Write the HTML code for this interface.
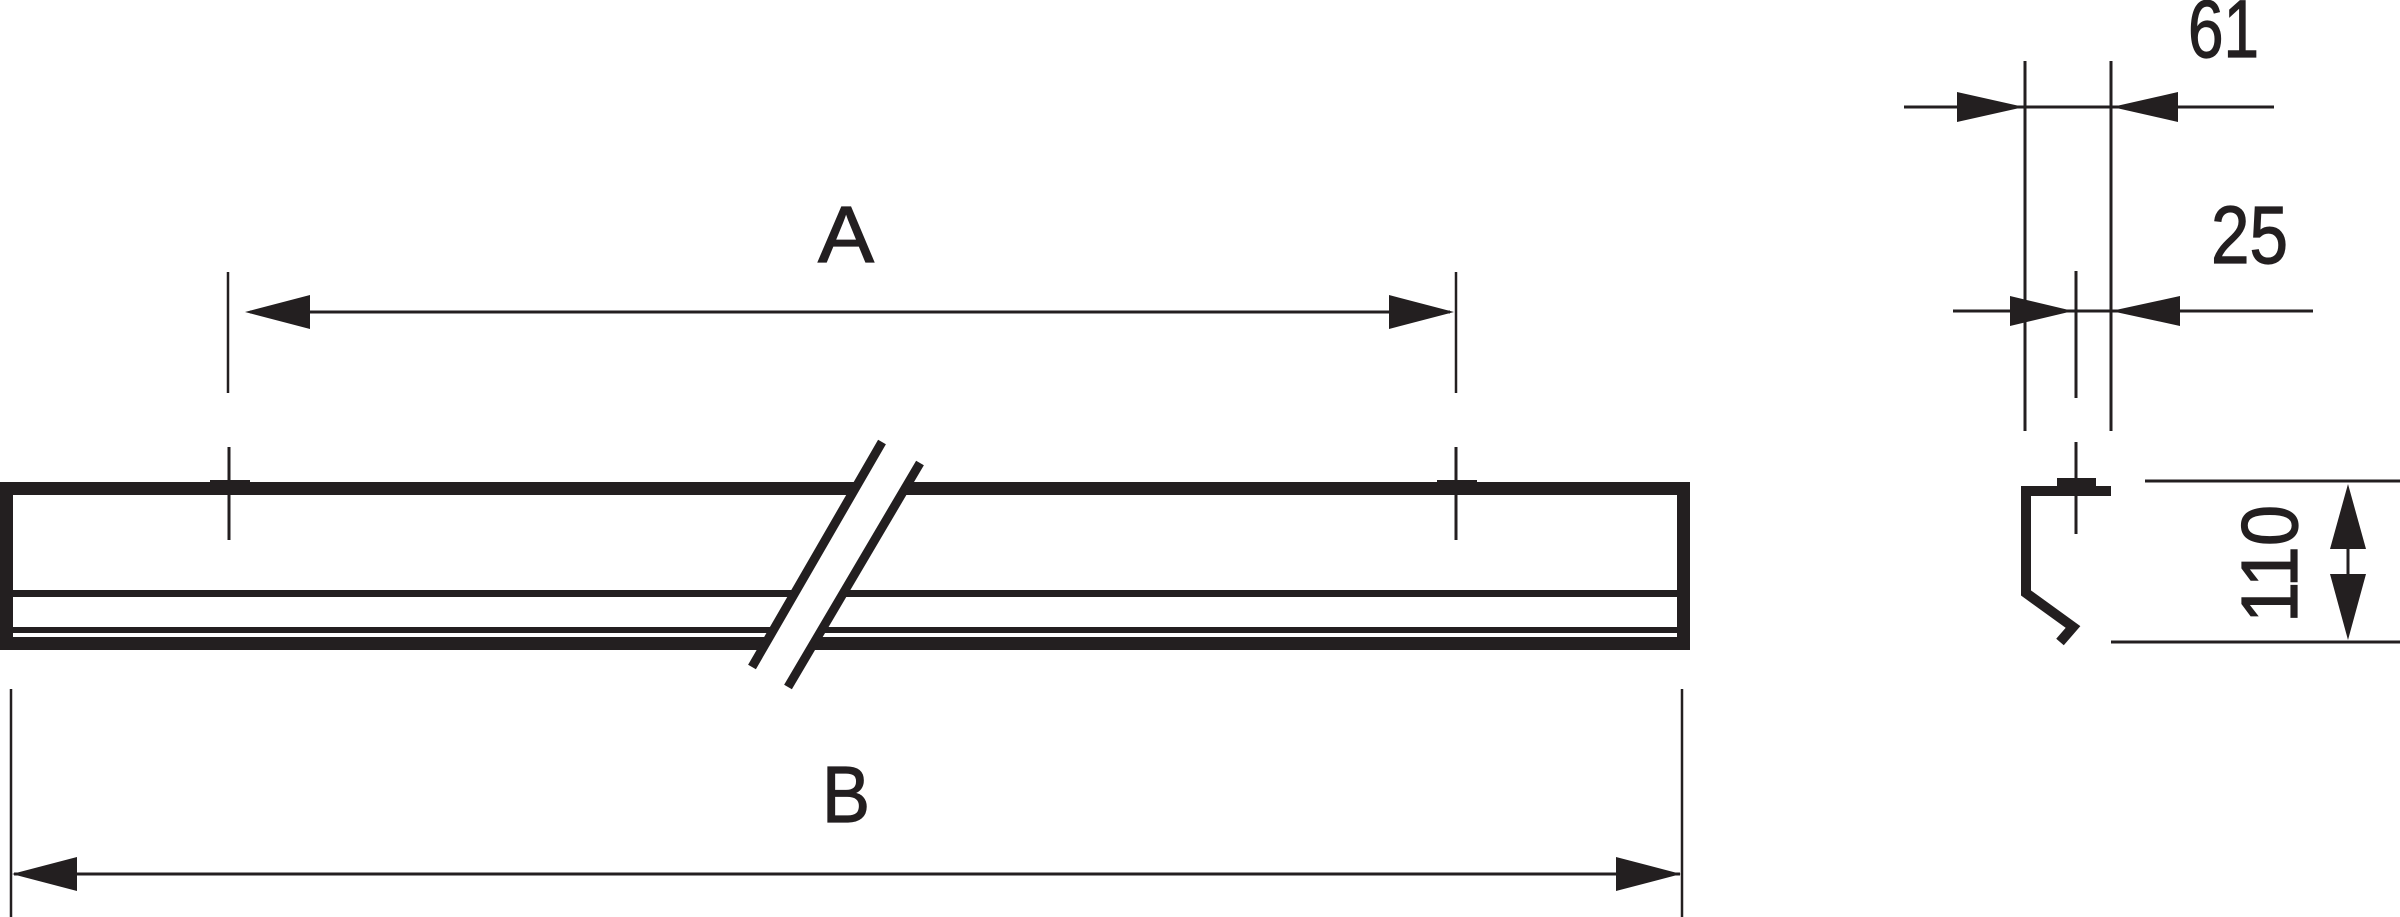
<!DOCTYPE html>
<html><head><meta charset="utf-8"><style>
html,body{margin:0;padding:0;background:#fff;}
svg{display:block;}
text{font-family:"Liberation Sans",sans-serif;fill:#231f20;stroke:#231f20;stroke-width:1.2;}
</style></head><body>
<svg width="2400" height="917" viewBox="0 0 2400 917" xmlns="http://www.w3.org/2000/svg">
<g stroke="#231f20" fill="none">
  <!-- main body -->
  <rect x="6.5" y="488.5" width="1677" height="155" stroke-width="13"/>
  <line x1="13" y1="593.5" x2="1678" y2="593.5" stroke-width="7"/>
  <line x1="13" y1="630" x2="1678" y2="630" stroke-width="6"/>
  <!-- ticks -->
  <line x1="229" y1="447" x2="229" y2="540" stroke-width="3"/>
  <rect x="210" y="480" width="40" height="6" fill="#231f20" stroke="none"/>
  <line x1="1456" y1="447" x2="1456" y2="540" stroke-width="3"/>
  <rect x="1437" y="480" width="40" height="6" fill="#231f20" stroke="none"/>
  <!-- break -->
  <polygon points="882,442 920,463 788,687 752,667" fill="#fff" stroke="none"/>
  <line x1="882" y1="442" x2="752" y2="667" stroke-width="9"/>
  <line x1="920" y1="463" x2="788" y2="687" stroke-width="9"/>
  <!-- dim A -->
  <line x1="228" y1="272" x2="228" y2="393" stroke-width="2.5"/>
  <line x1="1456" y1="272" x2="1456" y2="393" stroke-width="2.5"/>
  <line x1="250" y1="312" x2="1450" y2="312" stroke-width="3"/>
  <!-- dim B -->
  <line x1="11" y1="689" x2="11" y2="917" stroke-width="2.5"/>
  <line x1="1682" y1="689" x2="1682" y2="917" stroke-width="2.5"/>
  <line x1="14" y1="874" x2="1680" y2="874" stroke-width="3"/>
  <!-- right side dims -->
  <line x1="2025" y1="61" x2="2025" y2="431" stroke-width="3"/>
  <line x1="2111" y1="61" x2="2111" y2="431" stroke-width="3"/>
  <line x1="1904" y1="107" x2="2274" y2="107" stroke-width="3"/>
  <line x1="1953" y1="311" x2="2313" y2="311" stroke-width="3"/>
  <line x1="2076" y1="271" x2="2076" y2="398" stroke-width="3"/>
  <line x1="2076" y1="442" x2="2076" y2="534" stroke-width="3"/>
  <!-- profile -->
  <polyline points="2111,491 2026,491 2026,593 2073,627 2060,642" stroke-width="10" stroke-linejoin="miter"/>
  <rect x="2057" y="478" width="39" height="9" fill="#231f20" stroke="none"/>
  <!-- 110 dim -->
  <line x1="2145" y1="481" x2="2400" y2="481" stroke-width="3"/>
  <line x1="2111" y1="642" x2="2400" y2="642" stroke-width="3"/>
  <line x1="2348" y1="500" x2="2348" y2="625" stroke-width="3"/>
</g>
<g fill="#231f20">
  <polygon points="245,312 310,295 310,329"/>
  <polygon points="1454,312 1389,295 1389,329"/>
  <polygon points="12,874 77,857 77,891"/>
  <polygon points="1681,874 1616,857 1616,891"/>
  <!-- 61 arrows -->
  <polygon points="2024,107 1957,92 1957,122"/>
  <polygon points="2112,107 2178,92 2178,122"/>
  <!-- 25 arrows -->
  <polygon points="2073,311 2010,296 2010,326"/>
  <polygon points="2111,311 2180,296 2180,326"/>
  <!-- 110 arrows -->
  <polygon points="2348,484 2330,549 2366,549"/>
  <polygon points="2348,640 2330,574 2366,574"/>
</g>
<text x="846" y="262" font-size="80" text-anchor="middle" textLength="56" lengthAdjust="spacingAndGlyphs">A</text>
<text x="846" y="822" font-size="80" text-anchor="middle" textLength="48" lengthAdjust="spacingAndGlyphs">B</text>
<text x="2188" y="57" font-size="82" textLength="71" lengthAdjust="spacingAndGlyphs">61</text>
<text x="2211" y="263" font-size="82" textLength="77" lengthAdjust="spacingAndGlyphs">25</text>
<text x="0" y="0" font-size="80" transform="translate(2297,623) rotate(-90)" textLength="118" lengthAdjust="spacingAndGlyphs">110</text>
</svg>
</body></html>
